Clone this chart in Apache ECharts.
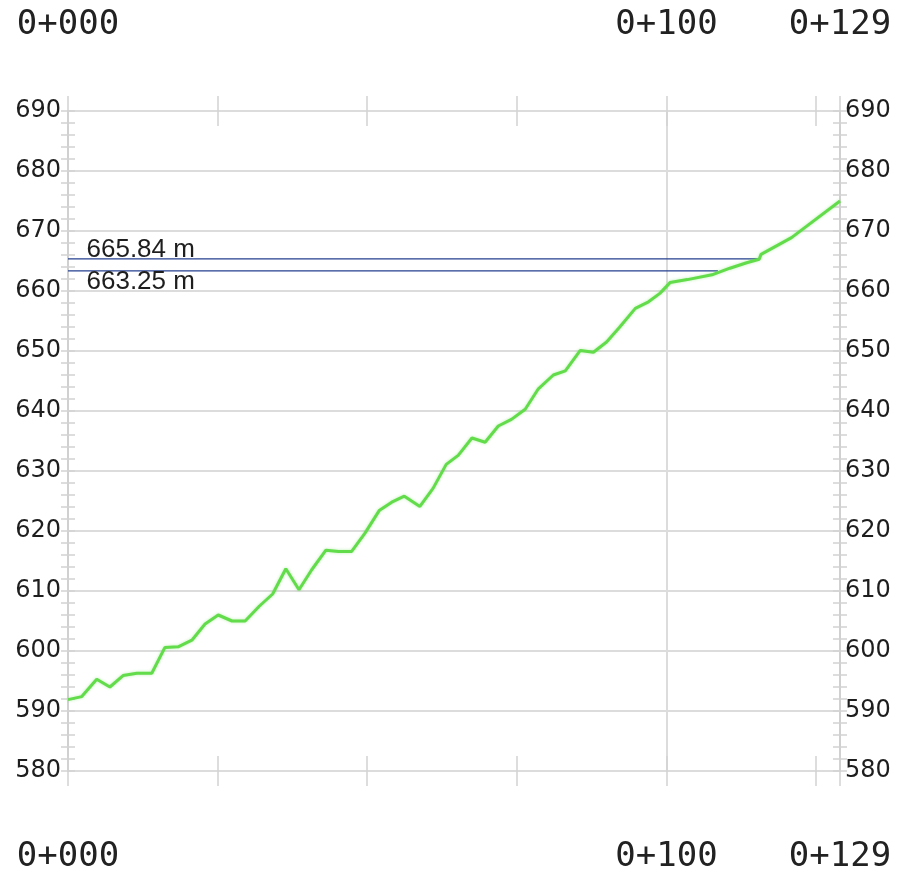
<!DOCTYPE html>
<html>
<head>
<meta charset="utf-8">
<script src="https://cdn.jsdelivr.net/npm/echarts@6/dist/echarts.min.js"></script>
<style>
  html, body { margin: 0; padding: 0; background: #fff; }
  #chart { width: 902px; height: 878px; }
</style>
</head>
<body>
<div id="chart"></div>
<script>
// profile: station (m) and ground elevation (m)
const stations = [0, 2.3, 4.8, 7.0, 9.2, 11.5, 14.0, 16.2, 18.4, 20.7, 22.9, 25.1, 27.4, 29.6, 32.0, 34.2, 36.4, 38.6,
  40.7, 43.1, 45.2, 47.4, 49.6, 52.0, 54.1, 56.2, 58.8, 61.0, 63.2, 65.2, 67.5, 69.7, 71.9, 74.1, 76.4, 78.6, 81.1,
  83.1, 85.6, 87.8, 90.0, 92.2, 94.8, 97.0, 98.9, 100.6, 103.5, 107.6, 110.6, 113.4, 115.5, 115.8, 120.9, 129];
const elevations = [591.9, 592.4, 595.3, 594.0, 595.9, 596.3, 596.3, 600.6, 600.7, 601.8, 604.5, 606.0, 605.0, 605.0,
  607.5, 609.5, 613.7, 610.2, 613.5, 616.8, 616.6, 616.6, 619.6, 623.4, 624.8, 625.8, 624.1, 627.1, 631.1, 632.6,
  635.5, 634.8, 637.5, 638.6, 640.3, 643.7, 646.0, 646.7, 650.1, 649.8, 651.5, 654.0, 657.1, 658.2, 659.6, 661.4,
  661.9, 662.7, 663.8, 664.7, 665.3, 666.1, 668.9, 675.0];

// horizontal reference levels
const refLevels = [665.35, 663.35];
const refEnds = [115.5, 108.6];
const refLabels = ['665.84 m', '663.25 m'];

// station ticks and labels
const tickStations = [0, 25, 50, 75, 100, 125, 129];
const labelStations = [0, 100, 129];
const stationLabels = ['0+000', '0+100', '0+129'];

const gridGray = '#dcdcdc';
const tickGray = '#d2d2d2';

const chart = echarts.init(document.getElementById('chart'));

function yAxisFor(pos, inside, withLabels) {
  return {
    type: 'value',
    position: pos,
    min: 580,
    max: 690,
    interval: 10,
    axisLine: { show: !inside, onZero: false, lineStyle: { color: '#d0d0d0', width: 2 } },
    axisTick: { show: true, inside: inside, length: 7, lineStyle: { color: tickGray, width: 1.5 } },
    minorTick: { show: true, splitNumber: 5, length: 7, lineStyle: { color: tickGray, width: 1.5 } },
    splitLine: { show: withLabels && pos === 'left', lineStyle: { color: gridGray, width: 2 } },
    axisLabel: {
      show: withLabels,
      margin: pos === 'left' ? 7 : 5,
      fontFamily: 'DejaVu Sans',
      fontSize: 24,
      color: '#1e1e1e'
    }
  };
}

function xAxisFor(pos, inside, withLabels) {
  return {
    type: 'value',
    position: pos,
    min: 0,
    max: 129,
    axisLine: { show: false, onZero: false },
    axisTick: {
      show: true,
      inside: inside,
      length: 15,
      customValues: tickStations,
      lineStyle: { color: tickGray, width: 1.5 }
    },
    splitLine: { show: false },
    axisLabel: {
      show: withLabels,
      customValues: labelStations,
      formatter: (v) => stationLabels[labelStations.indexOf(v)],
      margin: 86,
      verticalAlign: 'middle',
      fontFamily: 'DejaVu Sans Mono',
      fontSize: 34,
      color: '#222'
    }
  };
}

const refSeries = refLevels.map((lvl, i) => ({
  type: 'line',
  xAxisIndex: 0,
  yAxisIndex: 0,
  symbol: 'circle',
  symbolSize: 1,
  showSymbol: true,
  itemStyle: { color: 'transparent' },
  lineStyle: { color: '#243f8f', width: 1.2 },
  data: [
    {
      value: [0, lvl],
      label: {
        show: true,
        formatter: refLabels[i],
        position: [19, i === 0 ? -9 : 11],
        align: 'left',
        verticalAlign: 'middle',
        fontFamily: 'Liberation Sans',
        fontSize: 26,
        color: '#1e1e1e'
      }
    },
    [refEnds[i], lvl]
  ],
  z: 3
}));

const option = {
  backgroundColor: '#fff',
  animation: false,
  grid: { left: 68, right: 62, top: 111, bottom: 107, containLabel: false, outerBoundsMode: 'none' },
  xAxis: [
    xAxisFor('bottom', false, true),
    xAxisFor('bottom', true, false),
    xAxisFor('top', false, true),
    xAxisFor('top', true, false),
    {
      // station grid line at 0+100
      type: 'value',
      position: 'bottom',
      min: 0,
      max: 129,
      interval: 100,
      axisLine: { show: false, onZero: false },
      axisTick: { show: false },
      axisLabel: { show: false },
      splitLine: { show: true, lineStyle: { color: gridGray, width: 2 } }
    }
  ],
  yAxis: [
    yAxisFor('left', false, true),
    yAxisFor('left', true, false),
    yAxisFor('right', false, true),
    yAxisFor('right', true, false)
  ],
  series: [
    {
      type: 'line',
      xAxisIndex: 0,
      yAxisIndex: 0,
      symbol: 'none',
      lineStyle: { color: '#62dc4a', width: 3, shadowColor: 'rgba(98,220,74,0.45)', shadowBlur: 3 },
      data: stations.map((s, i) => [s, elevations[i]]),
      z: 4
    },
    ...refSeries
  ]
};

chart.setOption(option);
</script>
</body>
</html>
